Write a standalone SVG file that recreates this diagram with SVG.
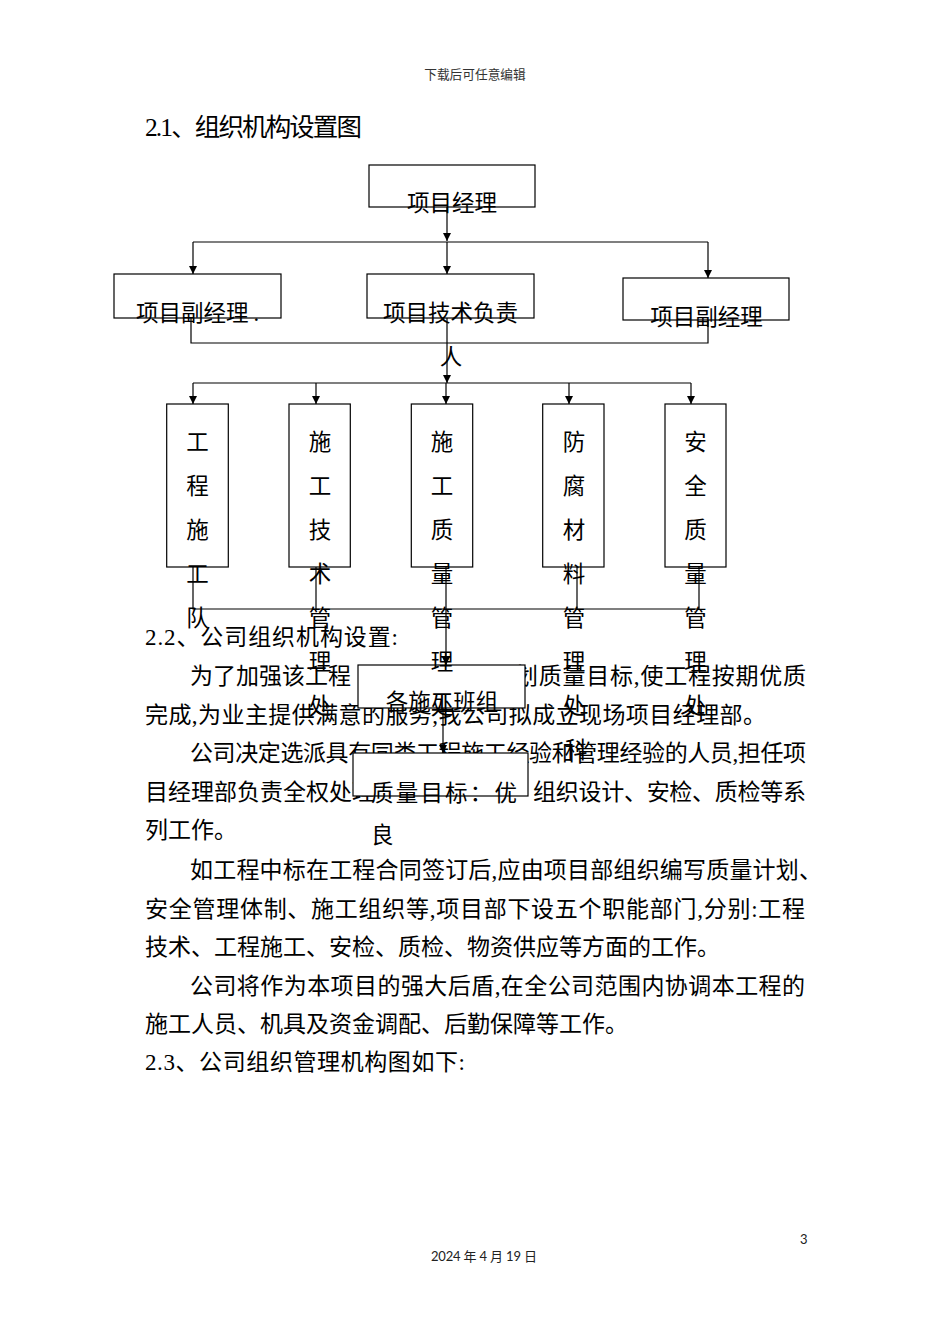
<svg xmlns="http://www.w3.org/2000/svg" width="950" height="1344" viewBox="0 0 950 1344">
<style>
.t{font-family:"Liberation Serif","Noto Sans CJK SC",serif;fill:#000;font-size:23px}
.lb{font-family:"Liberation Serif","Noto Sans CJK SC",serif;fill:#000;font-size:22.5px;text-anchor:middle}
.box{fill:#fff;stroke:#000;stroke-width:1.2}
.ln{fill:none;stroke:#000;stroke-width:1.2}
.ar{fill:none;stroke:#000;stroke-width:1.2;marker-end:url(#ah)}
.ft{font-family:Lato,"Noto Sans CJK SC",sans-serif;fill:#222;font-size:13px}
</style>
<defs>
<marker id="ah" markerUnits="userSpaceOnUse" markerWidth="8" markerHeight="8" viewBox="0 0 8 8" refX="8" refY="4" orient="auto"><path d="M0,0 L8,4 L0,8 z" fill="#000"/></marker>
</defs>
<rect width="950" height="1344" fill="#fff"/>
<text x="475" y="79" font-family="'Noto Sans CJK SC',sans-serif" font-size="12.7" fill="#333" text-anchor="middle">下载后可任意编辑</text>
<text class="t" x="145" y="136" style="font-size:25.5px" textLength="217" lengthAdjust="spacing">2.1、组织机构设置图</text>

<g id="connectors">
<path class="ar" d="M447,207 V241"/>
<path class="ln" d="M193,242 H708"/>
<path class="ar" d="M193,242 V274"/>
<path class="ar" d="M447,242 V274"/>
<path class="ar" d="M708,242 V278"/>
<path class="ln" d="M191,318 V343 H708 V320"/>
<path class="ar" d="M447,318 V383"/>
<path class="ln" d="M193,383 H691"/>
<path class="ar" d="M193,383 V404"/>
<path class="ar" d="M316,383 V404"/>
<path class="ar" d="M446,383 V404"/>
<path class="ar" d="M569,383 V404"/>
<path class="ar" d="M691,383 V404"/>
<path class="ln" d="M193,567 V609 H699 V567"/>
<path class="ln" d="M316,567 V609"/>
<path class="ln" d="M577,567 V609"/>
<path class="ar" d="M446,567 V665"/>
<path class="ar" d="M443,708 V753"/>
</g>

<g id="n-pm">
<rect class="box" x="369" y="165" width="166" height="42"/>
<text class="lb" x="452" y="211">项目经理</text>
</g>
<g id="n-dpm1">
<rect class="box" x="114" y="274" width="167" height="44"/>
<text class="lb" x="197.5" y="321">项目副经理<tspan dx="5">.</tspan></text>
</g>
<g id="n-tech">
<rect class="box" x="367" y="274" width="167" height="44"/>
<text class="lb" x="450.5" y="321">项目技术负责</text>
<text class="lb" x="451" y="365">人</text>
</g>
<g id="n-dpm2">
<rect class="box" x="623" y="278" width="166" height="42"/>
<text class="lb" x="706.5" y="324.5">项目副经理</text>
</g>

<g id="body">
<text class="t" x="145" y="645" textLength="253" lengthAdjust="spacing">2.2、公司组织机构设置:</text>
<text class="t" x="190" y="684">为了加强该工程</text>
<text class="t" x="515" y="684" textLength="291" lengthAdjust="spacing">划质量目标,使工程按期优质</text>
<text class="t" x="145" y="723" textLength="621" lengthAdjust="spacing">完成,为业主提供满意的服务,我公司拟成立现场项目经理部。</text>
<text class="t" x="190" y="761" textLength="616" lengthAdjust="spacing">公司决定选派具有同类工程施工经验和管理经验的人员,担任项</text>
<text class="t" x="145" y="800">目经理部负责全权处理</text>
<text class="t" x="533" y="800" textLength="273" lengthAdjust="spacing">组织设计、安检、质检等系</text>
<text class="t" x="145" y="838">列工作。</text>
<text class="t" x="190" y="878" textLength="632" lengthAdjust="spacing">如工程中标在工程合同签订后,应由项目部组织编写质量计划、</text>
<text class="t" x="145" y="917" textLength="660" lengthAdjust="spacing">安全管理体制、施工组织等,项目部下设五个职能部门,分别:工程</text>
<text class="t" x="145" y="955">技术、工程施工、安检、质检、物资供应等方面的工作。</text>
<text class="t" x="190" y="994" textLength="615" lengthAdjust="spacing">公司将作为本项目的强大后盾,在全公司范围内协调本工程的</text>
<text class="t" x="145" y="1032">施工人员、机具及资金调配、后勤保障等工作。</text>
<text class="t" x="145" y="1070" textLength="320" lengthAdjust="spacing">2.3、公司组织管理机构图如下:</text>
</g>

<g id="n-teams">
<rect class="box" x="358" y="665" width="167" height="43"/>
<text class="lb" x="442" y="710">各施工班组</text>
</g>
<g id="n-goal">
<rect class="box" x="353" y="753" width="175" height="43"/>
<text class="lb" x="371" y="801" style="text-anchor:start" textLength="146" lengthAdjust="spacing">质量目标：优</text>
<text class="lb" x="371" y="843" style="text-anchor:start">良</text>
</g>

<g id="n-d1">
<rect class="box" x="166.7" y="404" width="61.6" height="163"/>
<text class="lb" x="197.5" y="450"><tspan x="197.5">工</tspan><tspan x="197.5" dy="44">程</tspan><tspan x="197.5" dy="44">施</tspan><tspan x="197.5" dy="44">工</tspan><tspan x="197.5" dy="44">队</tspan></text>
</g>
<g id="n-d2">
<rect class="box" x="289" y="404" width="61.3" height="163"/>
<text class="lb" x="320" y="450"><tspan x="320">施</tspan><tspan x="320" dy="44">工</tspan><tspan x="320" dy="44">技</tspan><tspan x="320" dy="44">术</tspan><tspan x="320" dy="44">管</tspan><tspan x="320" dy="44">理</tspan><tspan x="320" dy="44">处</tspan></text>
</g>
<g id="n-d3">
<rect class="box" x="411.3" y="404" width="61.4" height="163"/>
<text class="lb" x="442" y="450"><tspan x="442">施</tspan><tspan x="442" dy="44">工</tspan><tspan x="442" dy="44">质</tspan><tspan x="442" dy="44">量</tspan><tspan x="442" dy="44">管</tspan><tspan x="442" dy="44">理</tspan><tspan x="442" dy="44">处</tspan></text>
</g>
<g id="n-d4">
<rect class="box" x="542.7" y="404" width="61.3" height="163"/>
<text class="lb" x="574" y="450"><tspan x="574">防</tspan><tspan x="574" dy="44">腐</tspan><tspan x="574" dy="44">材</tspan><tspan x="574" dy="44">料</tspan><tspan x="574" dy="44">管</tspan><tspan x="574" dy="44">理</tspan><tspan x="574" dy="44">处</tspan><tspan x="576" dy="44">科</tspan></text>
</g>
<g id="n-d5">
<rect class="box" x="665" y="404" width="61" height="163"/>
<text class="lb" x="695.5" y="450"><tspan x="695.5">安</tspan><tspan x="695.5" dy="44">全</tspan><tspan x="695.5" dy="44">质</tspan><tspan x="695.5" dy="44">量</tspan><tspan x="695.5" dy="44">管</tspan><tspan x="695.5" dy="44">理</tspan><tspan x="695.5" dy="44">处</tspan></text>
</g>

<text class="ft" x="800" y="1244">3</text>
<text class="ft" x="431" y="1261" textLength="106" lengthAdjust="spacing">2024 年 4 月 19 日</text>
</svg>
